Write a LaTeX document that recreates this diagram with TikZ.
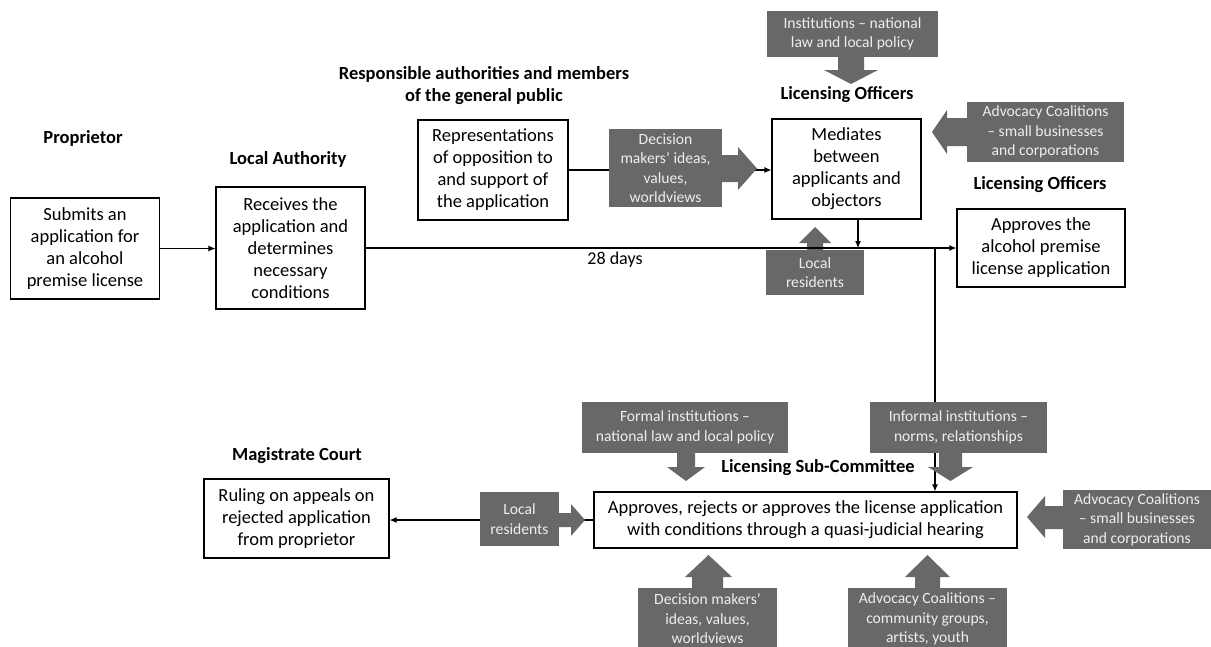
\documentclass[tikz,border=0pt]{standalone}
\usepackage{fontspec}
\setmainfont{Carlito}
\usetikzlibrary{arrows.meta,calc}
\definecolor{gfill}{HTML}{686868}
\definecolor{gtext}{HTML}{EEEEEE}
\begin{document}
\begin{tikzpicture}[x=1pt,y=-1pt,
  wbox/.style={draw=black,line width=1.1pt,fill=white,align=center,inner sep=0pt,font=\fontsize{18.5}{22}\selectfont},
  gbox/.style={fill=gfill,text=gtext,align=center,inner sep=0pt,font=\fontsize{15.6}{19.5}\selectfont},
  headlbl/.style={font=\bfseries\fontsize{18.5}{22}\selectfont,align=center,inner sep=0pt},
  conn/.style={line width=1.1pt,-{Latex[length=7pt,width=6pt]}},
  plainline/.style={line width=1.1pt},
  barrow/.style={fill=gfill}]
\useasboundingbox (0,0) rectangle (1211,646);
\clip (0,0) rectangle (1211,646);
\fill[white] (0,0) rectangle (1211,646);

% headings
\node[headlbl] (hprop) at (83,138) {Proprietor};
\node[headlbl] (hla) at (288,159) {Local Authority};
\node[headlbl] (hresp) at (484,86) {Responsible authorities and members\\of the general public};
\node[headlbl] (hlo1) at (847,95) {Licensing Officers};
\node[headlbl] (hlo2) at (1040,185) {Licensing Officers};
\node[headlbl] (hmag) at (297,456) {Magistrate Court};
\node[headlbl] (hsub) at (818,468) {Licensing Sub-Committee};
\node[font=\fontsize{18}{22}\selectfont,inner sep=0pt] (days) at (615,260) {28 days};

% white boxes
\node[wbox,minimum width=149pt,minimum height=101pt] (b1) at (85,248.5) {Submits an\\application for\\an alcohol\\premise license};
\node[wbox,minimum width=149pt,minimum height=122pt] (b2) at (290.5,248) {Receives the\\application and\\determines\\necessary\\conditions};
\node[wbox,minimum width=150pt,minimum height=100pt] (rep) at (493,170) {Representations\\of opposition to\\and support of\\the application};
\node[wbox,minimum width=149pt,minimum height=100pt] (med) at (846.5,169) {Mediates\\between\\applicants and\\objectors};
\node[wbox,minimum width=168pt,minimum height=78pt] (app) at (1041,248) {Approves the\\alcohol premise\\license application};
\node[wbox,minimum width=423pt,minimum height=56pt] (sub) at (805.5,520) {Approves, rejects or approves the license application\\with conditions through a quasi-judicial hearing};
\node[wbox,minimum width=185pt,minimum height=79pt] (mag) at (296.5,518.5) {Ruling on appeals on\\rejected application\\from proprietor};

% connectors behind grey shapes
\draw[conn] (rep.east) -- (rep.east -| med.west);
\coordinate (j2) at (935,248);
\draw[conn] (j2) -- (j2 |- sub.north);
\draw[conn] (sub.west) -- (sub.west -| mag.east);

% grey boxes
\node[gbox,minimum width=171pt,minimum height=46pt] (ginst) at (852.5,34) {Institutions -- national\\law and local policy};
\node[gbox,minimum width=113pt,minimum height=78pt] (gdec1) at (665.5,168) {Decision\\makers’ ideas,\\values,\\worldviews};
\node[gbox,minimum width=157pt,minimum height=60pt] (gadv1) at (1045.5,132) {Advocacy Coalitions\\-- small businesses\\and corporations};
\node[gbox,minimum width=98pt,minimum height=45pt] (gloc1) at (815,272.5) {Local\\residents};
\node[gbox,minimum width=206pt,minimum height=51pt] (gformal) at (685,427.5) {Formal institutions --\\national law and local policy};
\node[gbox,minimum width=177pt,minimum height=51pt] (ginformal) at (958.5,427.5) {Informal institutions --\\norms, relationships};
\node[gbox,minimum width=79pt,minimum height=54pt] (gloc2) at (519.5,519) {Local\\residents};
\node[gbox,minimum width=148pt,minimum height=59pt] (gadv2) at (1137,519.5) {Advocacy Coalitions\\-- small businesses\\and corporations};
\node[gbox,minimum width=139pt,minimum height=62pt] (gdec2) at (707.5,619) {Decision makers’\\ideas, values,\\worldviews};
\node[gbox,minimum width=159pt,minimum height=62pt] (gadv3) at (927.5,619) {Advocacy Coalitions --\\community groups,\\artists, youth};

% block arrows
\fill[barrow] (721,155) -- (738,155) -- (738,147) -- (757,168.5) -- (738,190) -- (738,182) -- (721,182) -- cycle;
\fill[barrow] (838,56) -- (864,56) -- (864,70) -- (878,70) -- (851,84) -- (824,70) -- (838,70) -- cycle;
\fill[barrow] (968,118) -- (947,118) -- (947,110) -- (932,132) -- (947,154) -- (947,146) -- (968,146) -- cycle;
\fill[barrow] (807,251) -- (807,243) -- (799,243) -- (815,227) -- (831,243) -- (823,243) -- (823,251) -- cycle;
\fill[barrow] (677,452) -- (695,452) -- (695,467) -- (705,467) -- (686,481) -- (667,467) -- (677,467) -- cycle;
\fill[barrow] (939,452) -- (962,452) -- (962,467) -- (973,467) -- (950.5,481) -- (928,467) -- (939,467) -- cycle;
\fill[barrow] (558,513) -- (571,513) -- (571,504) -- (585,520) -- (571,536) -- (571,527) -- (558,527) -- cycle;
\fill[barrow] (1064,506) -- (1045,506) -- (1045,496) -- (1027,517) -- (1045,538) -- (1045,529) -- (1064,529) -- cycle;
\fill[barrow] (692,589) -- (692,577) -- (685,577) -- (708.5,555) -- (732,577) -- (723,577) -- (723,589) -- cycle;
\fill[barrow] (915,589) -- (915,577) -- (905,577) -- (927.5,555) -- (950,577) -- (940,577) -- (940,589) -- cycle;

% connectors in front
\draw[conn] (b1.east) -- (b1.east -| b2.west);
\draw[conn] (b2.east) -- (b2.east -| app.west);
\coordinate (j1) at ([xshift=11.5pt]med.south);
\draw[conn] (j1) -- (j1 |- b2.east);
\end{tikzpicture}
\end{document}
